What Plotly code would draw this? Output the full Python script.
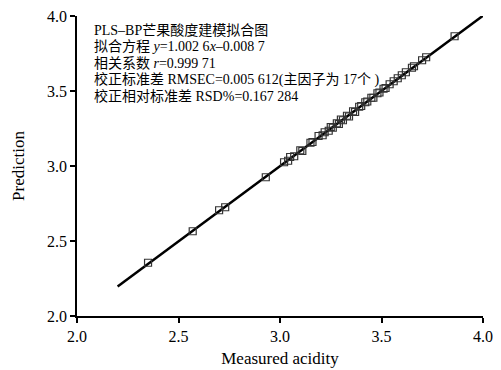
import plotly.graph_objects as go

measured = [2.35, 2.57, 2.70, 2.73, 2.93, 3.02, 3.04, 3.05, 3.07, 3.10, 3.11, 3.15, 3.16,
            3.19, 3.21, 3.22, 3.24, 3.25, 3.26, 3.28, 3.29, 3.30, 3.31, 3.33, 3.34, 3.36,
            3.37, 3.39, 3.40, 3.42, 3.43, 3.45, 3.46, 3.48, 3.49, 3.51, 3.52, 3.54, 3.56,
            3.58, 3.60, 3.62, 3.65, 3.66, 3.70, 3.72, 3.86]
predicted = [2.355, 2.565, 2.705, 2.725, 2.925, 3.025, 3.035, 3.06, 3.065, 3.105, 3.10, 3.155, 3.16,
             3.20, 3.205, 3.225, 3.235, 3.26, 3.255, 3.285, 3.28, 3.31, 3.305, 3.335, 3.33, 3.365,
             3.36, 3.395, 3.40, 3.425, 3.43, 3.455, 3.455, 3.485, 3.49, 3.515, 3.52, 3.545, 3.565,
             3.585, 3.605, 3.625, 3.655, 3.665, 3.705, 3.725, 3.865]
fit_x = [2.2, 4.0]
fit_y = [2.197, 4.002]

x_ticks = [2.0, 2.5, 3.0, 3.5, 4.0]
y_ticks = [2.0, 2.5, 3.0, 3.5, 4.0]

info_lines = [
    "PLS–BP芒果酸度建模拟合图",
    "拟合方程 <i>y</i>=1.002 6<i>x</i>–0.008 7",
    "相关系数 <i>r</i>=0.999 71",
    "校正标准差 RMSEC=0.005 612(主因子为 17个 )",
    "校正相对标准差 RSD%=0.167 284",
]

serif = "Liberation Serif, DejaVu Serif, Noto Sans CJK SC, serif"

fig = go.Figure()
fig.add_trace(go.Scatter(x=fit_x, y=fit_y, mode="lines",
                         line=dict(color="black", width=2.5), showlegend=False,
                         cliponaxis=False))
fig.add_trace(go.Scatter(x=measured, y=predicted, mode="markers",
                         marker=dict(symbol="square-open", size=7, color="#333",
                                     line=dict(width=1.2)), showlegend=False))

for i, line in enumerate(info_lines):
    fig.add_annotation(x=0, y=1, xref="paper", yref="paper", xanchor="left", yanchor="middle",
                       xshift=15, yshift=-(14 + 16.5 * i), align="left", showarrow=False,
                       text=line, font=dict(family=serif, size=14, color="black"))

axis_common = dict(showline=True, linecolor="black", linewidth=1.5, ticks="outside",
                   ticklen=5, tickwidth=1.5, tickcolor="black", showgrid=False,
                   zeroline=False, mirror=False, automargin=False,
                   ticklabeloverflow="allow",
                   tickfont=dict(family=serif, size=16, color="black"))

fig.update_xaxes(range=[2.0, 4.0], tickvals=x_ticks, ticktext=[f"{v:.1f}" for v in x_ticks],
                 title=dict(text="Measured acidity", font=dict(family=serif, size=17, color="black"),
                            standoff=8),
                 **axis_common)
fig.update_yaxes(range=[2.0, 4.0], tickvals=y_ticks, ticktext=[f"{v:.1f}" for v in y_ticks],
                 title=dict(text="Prediction", font=dict(family=serif, size=17, color="black"),
                            standoff=18),
                 **axis_common)

# page body has an 8px default margin, so the figure is sized to fit the window
fig.update_layout(width=493, height=362, margin=dict(l=69, r=18, t=8, b=54),
                  plot_bgcolor="white", paper_bgcolor="white")

fig.write_html("out.html")
